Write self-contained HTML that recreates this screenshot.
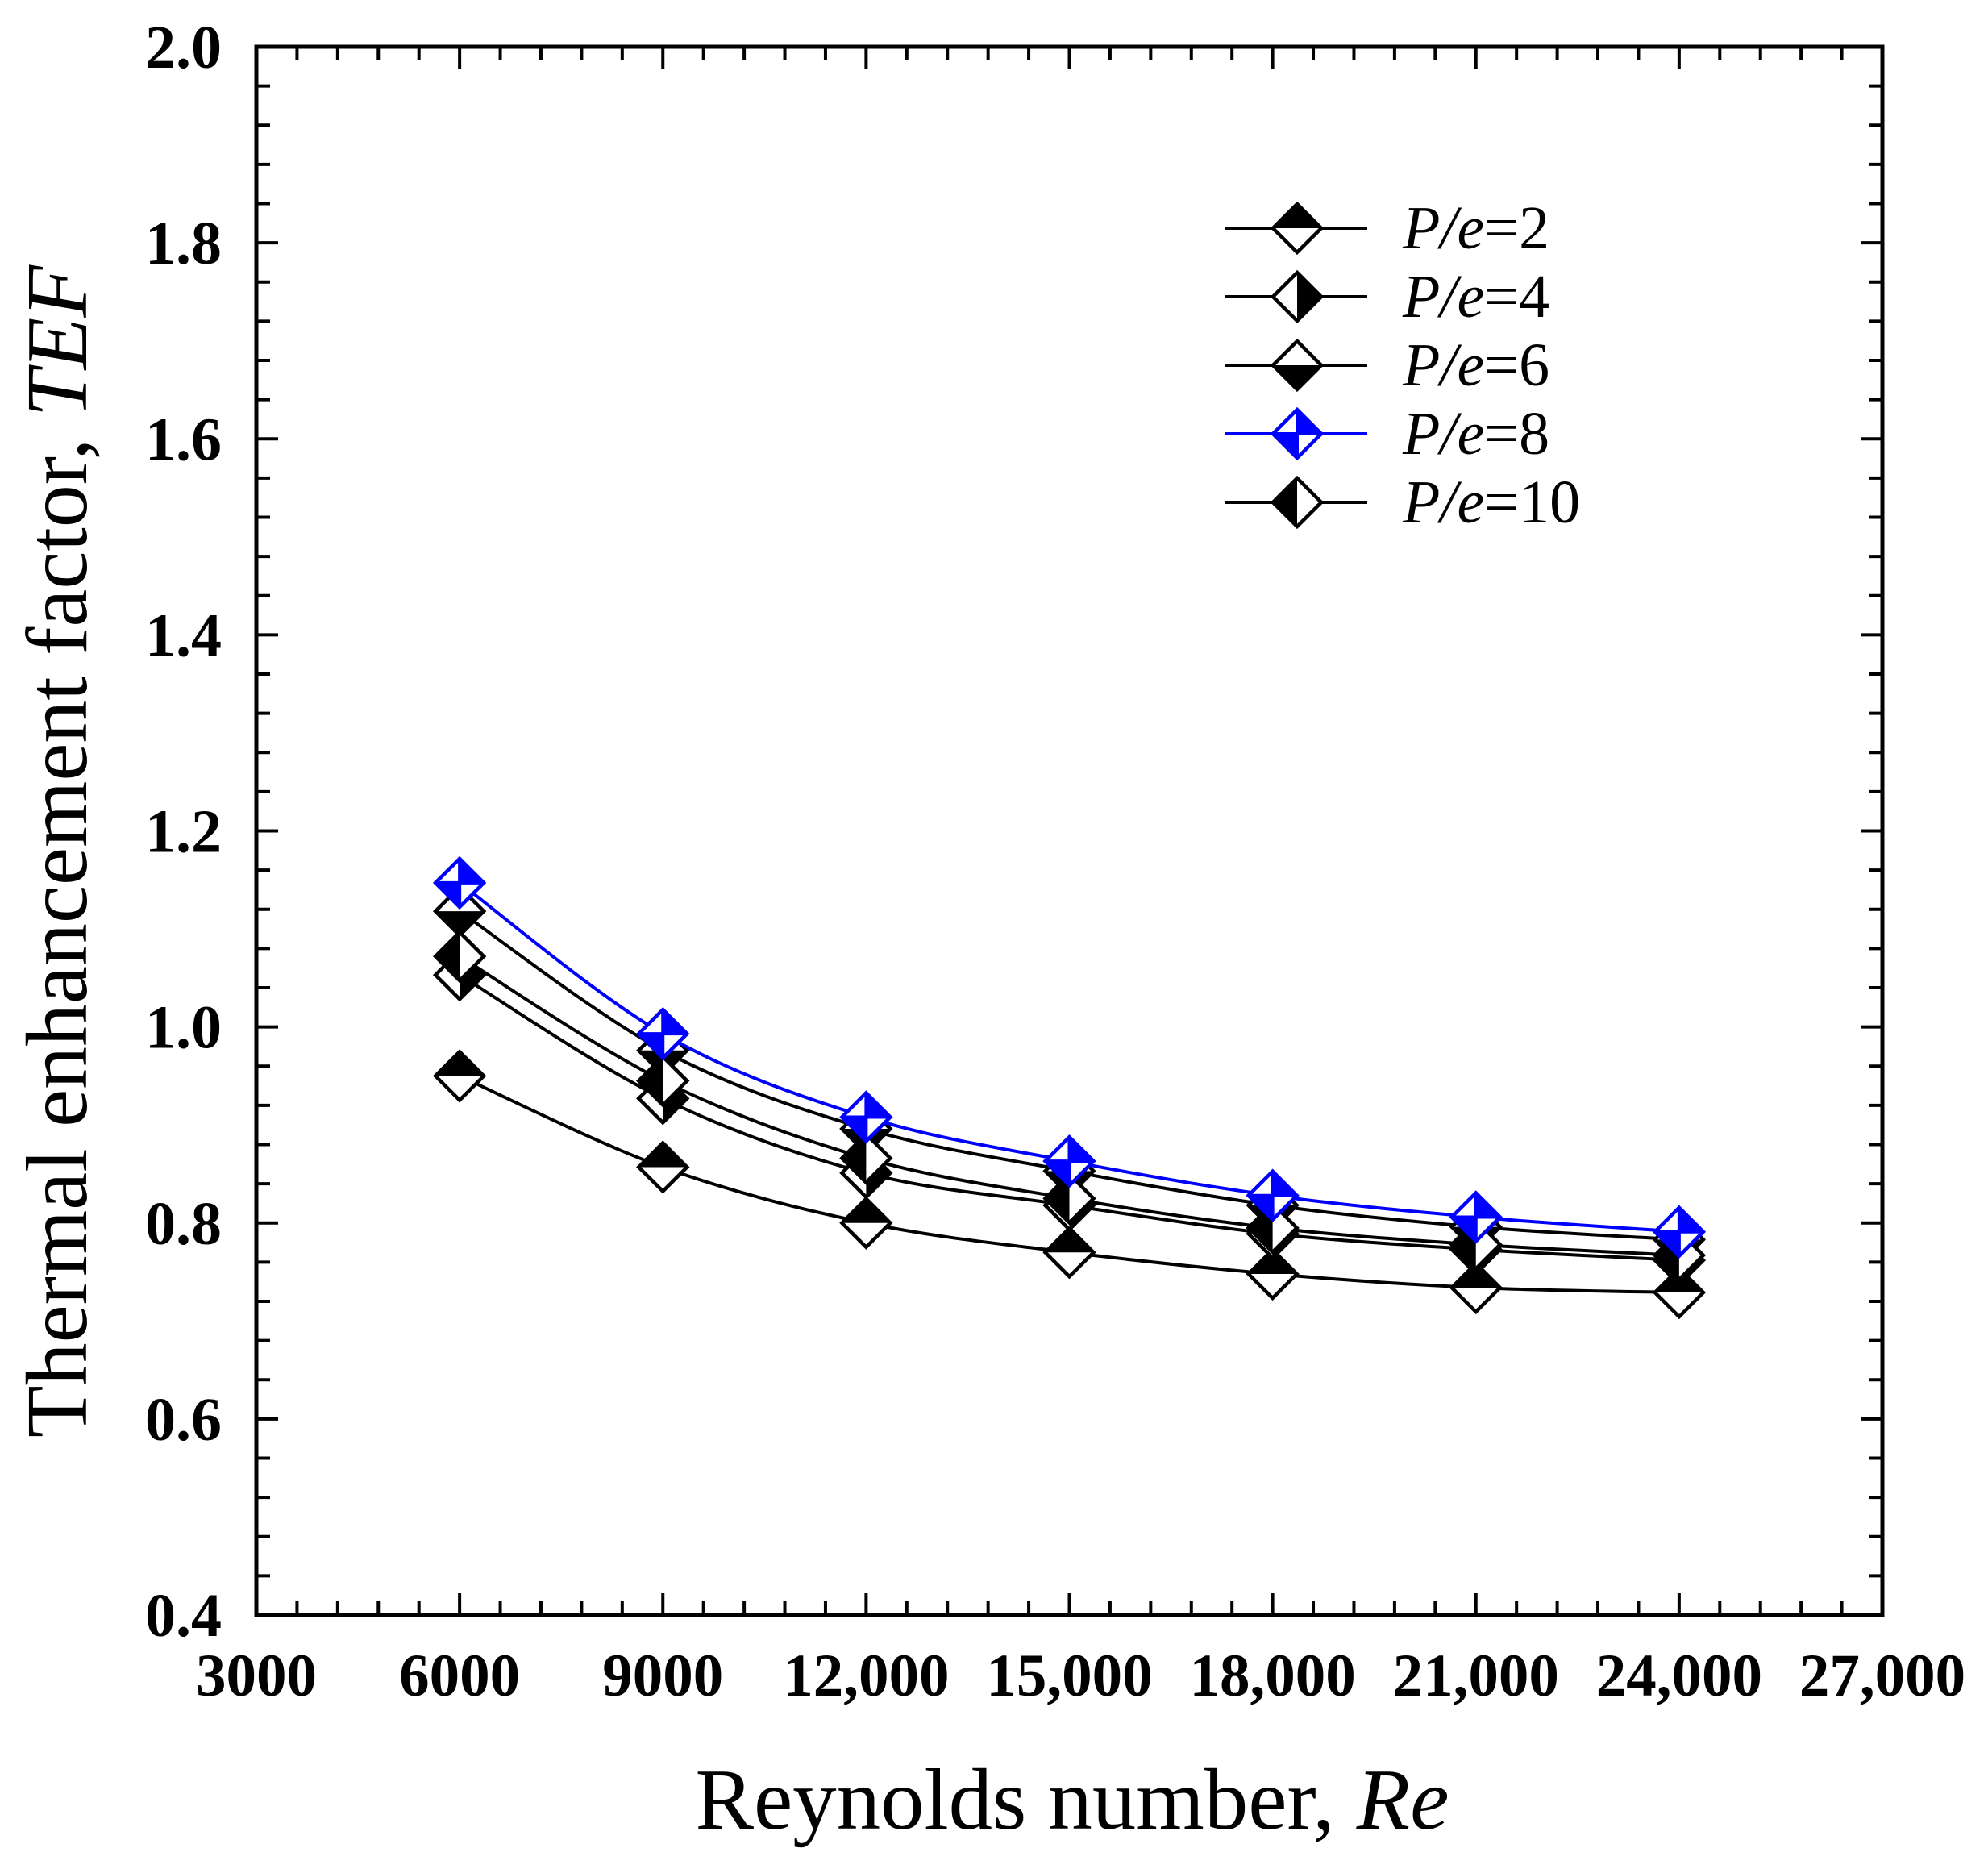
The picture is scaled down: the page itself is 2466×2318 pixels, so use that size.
<!DOCTYPE html>
<html><head><meta charset="utf-8"><style>
html,body{margin:0;padding:0;background:#fff;}
svg{display:block;}
text{font-family:"Liberation Serif",serif;}
</style></head><body>
<svg id="chart" width="2466" height="2318" viewBox="0 0 2466 2318" xmlns="http://www.w3.org/2000/svg">
<g id="axes"></g>
<g id="series"></g>
<g id="legend"></g>
<text x="1330" y="2268" text-anchor="middle" font-size="108" textLength="935" lengthAdjust="spacingAndGlyphs">Reynolds number, <tspan font-style="italic">Re</tspan></text>
<text transform="translate(107,1056) rotate(-90)" text-anchor="middle" font-size="108" textLength="1454" lengthAdjust="spacingAndGlyphs">Thermal enhancement factor, <tspan font-style="italic">TEF</tspan></text>
</svg>
<script>
const reynolds = [6000, 9000, 12000, 15000, 18000, 21000, 24000];
const seriesNames = ["P/e=2", "P/e=4", "P/e=6", "P/e=8", "P/e=10"];
const pe2 = [0.950, 0.857, 0.800, 0.770, 0.748, 0.734, 0.729];
const pe4 = [1.053, 0.927, 0.851, 0.818, 0.789, 0.773, 0.762];
const pe6 = [1.118, 0.976, 0.896, 0.853, 0.818, 0.796, 0.783];
const pe8 = [1.147, 0.993, 0.908, 0.863, 0.828, 0.806, 0.791];
const pe10 = [1.072, 0.945, 0.866, 0.825, 0.795, 0.778, 0.767];
const xTickValues = [3000, 6000, 9000, 12000, 15000, 18000, 21000, 24000, 27000];
const xTickLabels = ["3000", "6000", "9000", "12,000", "15,000", "18,000", "21,000", "24,000", "27,000"];
const yTickValues = [0.4, 0.6, 0.8, 1.0, 1.2, 1.4, 1.6, 1.8, 2.0];
const yTickLabels = ["0.4", "0.6", "0.8", "1.0", "1.2", "1.4", "1.6", "1.8", "2.0"];

const NS = "http://www.w3.org/2000/svg";
const L = 318, R = 2335, T = 58, B = 2003;
const X0 = 3000, X1 = 27000, Y0 = 0.4, Y1 = 2.0;
function xs(v){ return L + (v - X0) / (X1 - X0) * (R - L); }
function ys(v){ return B - (v - Y0) / (Y1 - Y0) * (B - T); }
function mk(tag, attrs, parent){
  const e = document.createElementNS(NS, tag);
  for (const k in attrs) e.setAttribute(k, attrs[k]);
  parent.appendChild(e);
  return e;
}
const axes = document.getElementById("axes");
for (let v = X0; v <= X1 + 1; v += 600) {
  const major = Math.abs((v - X0) % 3000) < 1;
  const len = major ? 27 : 17;
  const x = xs(v);
  const t1 = mk("line", {x1:x, y1:B, x2:x, y2:B-len, stroke:"#000", "stroke-width":4}, axes);
  
  
  const t2 = mk("line", {x1:x, y1:T, x2:x, y2:T+len, stroke:"#000", "stroke-width":4}, axes);
  
  
}
for (let i = 0; i <= 40; i++) {
  const v = Y0 + i * 0.04;
  const major = i % 5 === 0;
  const len = major ? 27 : 17;
  const y = ys(v);
  const t1 = mk("line", {x1:L, y1:y, x2:L+len, y2:y, stroke:"#000", "stroke-width":4}, axes);
  
  
  const t2 = mk("line", {x1:R, y1:y, x2:R-len, y2:y, stroke:"#000", "stroke-width":4}, axes);
  
  
}
const frame = mk("rect", {x:L, y:T, width:R-L, height:B-T, fill:"none", stroke:"#000", "stroke-width":5}, axes);


xTickValues.forEach((v, i) => {
  const t = mk("text", {x:xs(v), y:2103, "text-anchor":"middle", "font-size":75, "font-weight":"bold"}, axes);
  t.textContent = xTickLabels[i];
  
  
});
yTickValues.forEach((v, i) => {
  const t = mk("text", {x:275, y:ys(v)+26, "text-anchor":"end", "font-size":76, "font-weight":"bold"}, axes);
  t.textContent = yTickLabels[i];
  
  
});

const H = 30;
function marker(parent, cx, cy, type, color){
  const g = mk("g", {}, parent);
  const top = [cx, cy-H], rgt = [cx+H, cy], bot = [cx, cy+H], lft = [cx-H, cy], c = [cx, cy];
  const poly = pts => pts.map(p => p.join(",")).join(" ");
  mk("polygon", {points:poly([top,rgt,bot,lft]), fill:"#fff"}, g);
  let fills = [];
  if (type === 2) fills = [[lft, top, rgt]];
  if (type === 4) fills = [[top, rgt, bot]];
  if (type === 6) fills = [[lft, bot, rgt]];
  if (type === 10) fills = [[top, lft, bot]];
  if (type === 8) fills = [[top, rgt, c], [lft, bot, c]];
  fills.forEach(f => mk("polygon", {points:poly(f), fill:color}, g));
  if (type === 8) {
    mk("line", {x1:cx, y1:cy-H, x2:cx, y2:cy+H, stroke:color, "stroke-width":4}, g);
    mk("line", {x1:cx-H, y1:cy, x2:cx+H, y2:cy, stroke:color, "stroke-width":4}, g);
  }
  mk("polygon", {points:poly([top,rgt,bot,lft]), fill:"none", stroke:color, "stroke-width":4.5, "stroke-linejoin":"miter"}, g);
  return g;
}
function smoothPath(pts){
  let d = "M" + pts[0][0] + "," + pts[0][1];
  for (let i = 0; i < pts.length - 1; i++) {
    const p0 = pts[Math.max(0, i-1)], p1 = pts[i], p2 = pts[i+1], p3 = pts[Math.min(pts.length-1, i+2)];
    const c1 = [p1[0] + (p2[0]-p0[0])/6, p1[1] + (p2[1]-p0[1])/6];
    const c2 = [p2[0] - (p3[0]-p1[0])/6, p2[1] - (p3[1]-p1[1])/6];
    d += " C" + c1.join(",") + " " + c2.join(",") + " " + p2.join(",");
  }
  return d;
}
const seriesDefs = [
  {vals: pe2, type: 2, color: "#000", name: "series-pe2"},
  {vals: pe4, type: 4, color: "#000", name: "series-pe4"},
  {vals: pe6, type: 6, color: "#000", name: "series-pe6"},
  {vals: pe10, type: 10, color: "#000", name: "series-pe10"},
  {vals: pe8, type: 8, color: "#0000ff", name: "series-pe8"}
];
const sg = document.getElementById("series");
seriesDefs.forEach(s => {
  const g = mk("g", {}, sg);
  
  
  const pts = reynolds.map((r, i) => [xs(r), ys(s.vals[i])]);
  const p = mk("path", {d: smoothPath(pts), fill:"none", stroke:s.color, "stroke-width":4}, g);
  
  
  pts.forEach(pt => {
    const m = marker(g, pt[0], pt[1], s.type, s.color);
    
    
  });
});

const lg = document.getElementById("legend");
const legendTypes = [2, 4, 6, 8, 10];
const legendRows = [283, 368, 453, 538, 623];
seriesNames.forEach((n, i) => {
  const color = legendTypes[i] === 8 ? "#0000ff" : "#000";
  const g = mk("g", {}, lg);
  
  
  const y = legendRows[i];
  mk("line", {x1:1520, y1:y, x2:1696, y2:y, stroke:color, "stroke-width":4}, g);
  marker(g, 1609, y, legendTypes[i], color);
  const t = mk("text", {x:1740, y:y+25, "font-size":76}, g);
  const it = mk("tspan", {"font-style":"italic"}, t);
  it.textContent = "P/e";
  const rest = mk("tspan", {}, t);
  rest.textContent = n.slice(3);
  
  
});
</script>
</body></html>
